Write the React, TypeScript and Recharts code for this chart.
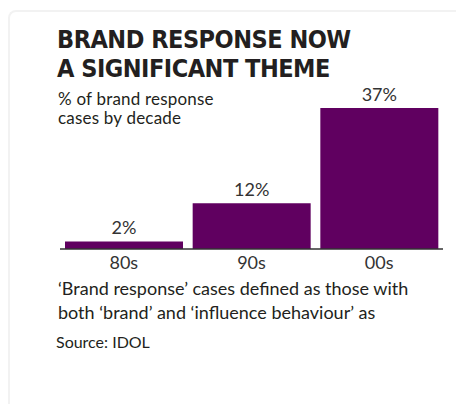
import React from 'react';
import { BarChart, Bar, XAxis, YAxis, LabelList } from 'recharts';

const decades = ['80s', '90s', '00s'];
const shares = [2, 12, 37];
const titleLines = ['BRAND RESPONSE NOW', 'A SIGNIFICANT THEME'];
const subtitleLines = ['% of brand response', 'cases by decade'];
const noteLines = ['\u2018Brand response\u2019 cases defined as those with', 'both \u2018brand\u2019 and \u2018influence behaviour\u2019 as'];
const sourceText = 'Source: IDOL';

const data = decades.map((d, i) => ({ decade: d, share: shares[i] }));

const textFont = "Lato, 'Noto Sans', sans-serif";

export default function App() {
  return (
    <div style={{ position: 'absolute', left: 0, top: 0, width: 456, height: 404, background: '#fff', overflow: 'hidden' }}>
      <div style={{ position: 'absolute', left: 8, top: 10, width: 460, height: 420, borderTop: '2px solid #f2f2f2', borderLeft: '2px solid #f2f2f2', borderTopLeftRadius: 8 }} />
      <div style={{ position: 'absolute', left: 0, top: 0 }}>
        <BarChart width={456} height={404} data={data} margin={{ top: 108, right: 13, bottom: 135, left: 60 }} barCategoryGap={5}>
          <XAxis dataKey="decade" height={20} axisLine={{ stroke: '#333', strokeWidth: 1.5 }} tickLine={false} tickSize={5} tickMargin={2}
            tick={{ fill: '#333', fontSize: 18, fontFamily: textFont }} interval={0} />
          <YAxis hide domain={[0, 'dataMax']} />
          <Bar dataKey="share" fill="#600060" isAnimationActive={false}>
            <LabelList dataKey="share" position="top" offset={7} formatter={(v: number) => `${v}%`}
              style={{ fill: '#333', fontSize: 18, fontFamily: textFont }} />
          </Bar>
        </BarChart>
      </div>
      <div style={{ position: 'absolute', left: 57, top: 25, fontFamily: "'DejaVu Sans'", fontStretch: 'condensed', fontWeight: 700, fontSize: 25, letterSpacing: -0.5, lineHeight: '29px', color: '#231f20', whiteSpace: 'nowrap' }}>
        {titleLines.map((t, i) => (<React.Fragment key={t}>{i > 0 && <br />}{t}</React.Fragment>))}
      </div>
      <div style={{ position: 'absolute', left: 58, top: 88.7, fontFamily: textFont, fontSize: 17, letterSpacing: 0.2, lineHeight: '19.5px', color: '#231f20', whiteSpace: 'nowrap' }}>
        {subtitleLines.map((t, i) => (<React.Fragment key={t}>{i > 0 && <br />}{t}</React.Fragment>))}
      </div>
      <div style={{ position: 'absolute', left: 58, top: 276, fontFamily: textFont, fontSize: 18, lineHeight: '24px', color: '#231f20', whiteSpace: 'nowrap' }}>
        {noteLines.map((t, i) => (<React.Fragment key={t}>{i > 0 && <br />}{t}</React.Fragment>))}
      </div>
      <div style={{ position: 'absolute', left: 56, top: 331.8, fontFamily: textFont, fontSize: 16, lineHeight: '20px', color: '#231f20', whiteSpace: 'nowrap' }}>{sourceText}</div>
    </div>
  );
}
